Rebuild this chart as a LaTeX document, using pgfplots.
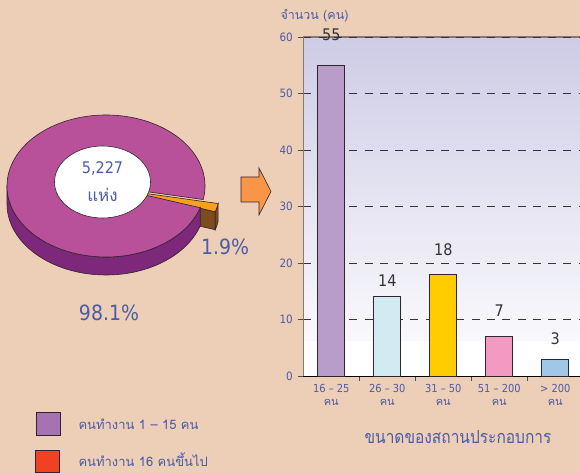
\documentclass[border=0pt]{standalone}
\usepackage{pgfplots}
\pgfplotsset{compat=1.18}
\usepackage{graphicx}
\usepackage{fontspec}
\setmainfont{DejaVu Sans Condensed}
\newfontfamily\thai[Script=Thai]{Loma}

\definecolor{bg}{RGB}{237,206,183}
\definecolor{txtblue}{RGB}{75,92,168}
\definecolor{lav}{RGB}{206,204,230}
\definecolor{pietop}{RGB}{184,80,154}
\definecolor{pieside}{RGB}{125,40,122}
\definecolor{slicetop}{RGB}{250,160,30}
\definecolor{sliceside}{RGB}{124,76,30}
\definecolor{arroworange}{RGB}{247,150,70}
\definecolor{leg1}{RGB}{165,115,180}
\definecolor{leg2}{RGB}{240,65,35}
\definecolor{b1}{RGB}{184,156,202}
\definecolor{b2}{RGB}{210,235,242}
\definecolor{b3}{RGB}{255,204,0}
\definecolor{b4}{RGB}{243,154,193}
\definecolor{b5}{RGB}{160,198,232}
\definecolor{gridc}{RGB}{55,50,60}
\definecolor{framec}{RGB}{135,120,115}
\definecolor{outl}{RGB}{50,35,45}

% pie: share of establishments (percent)
\def\pctBig{98.1}
\def\pctSmall{1.9}

\begin{document}
\begin{tikzpicture}[x=1pt,y=1pt]
% pie geometry (picture units = pt)
\pgfmathsetmacro{\cx}{106}
\pgfmathsetmacro{\cy}{287}
\pgfmathsetmacro{\tA}{-11}
\pgfmathsetmacro{\tB}{\tA-3.6*\pctSmall}
\pgfmathsetmacro{\tBB}{\tB+360}
\pgfmathsetmacro{\xA}{\cx+99*cos(\tA)}
\pgfmathsetmacro{\yA}{\cy+71*sin(\tA)}
\pgfmathsetmacro{\xB}{\cx+99*cos(\tB)}
\pgfmathsetmacro{\yB}{\cy+71*sin(\tB)}
\pgfmathsetmacro{\sx}{15}
\pgfmathsetmacro{\sy}{-4}
\fill[bg] (0,0) rectangle (580,473);

% ---- pie ----
\begin{axis}[at={(0pt,0pt)}, anchor=south west, hide axis,
    xtick=\empty, ytick=\empty,
    x=1pt, y=1pt, xmin=0, xmax=260, ymin=0, ymax=473, clip=false]
  % exploded small slice
  \filldraw[sliceside, draw=outl, line width=0.6pt]
    (axis cs:{\cx+\sx},{\cy+\sy}) -- (axis cs:{\xB+\sx},{\yB+\sy})
    -- (axis cs:{\xB+\sx},{\yB+\sy-18}) -- (axis cs:{\cx+\sx},{\cy+\sy-18}) -- cycle;
  \filldraw[sliceside, draw=outl, line width=0.6pt]
    (axis cs:{\xB+\sx},{\yB+\sy}) -- (axis cs:{\xB+\sx},{\yB+\sy-18})
    arc[start angle=\tB, end angle=\tA, x radius=99pt, y radius=71pt]
    -- (axis cs:{\xA+\sx},{\yA+\sy})
    arc[start angle=\tA, end angle=\tB, x radius=99pt, y radius=71pt] -- cycle;
  \filldraw[slicetop, draw=outl, line width=0.6pt]
    (axis cs:{\cx+\sx},{\cy+\sy}) -- (axis cs:{\xA+\sx},{\yA+\sy})
    arc[start angle=\tA, end angle=\tB, x radius=99pt, y radius=71pt] -- cycle;
  % main part
  \filldraw[pieside, draw=outl, line width=0.6pt]
    (axis cs:{\cx-99},\cy) -- (axis cs:{\cx-99},{\cy-18})
    arc[start angle=180, end angle=\tBB, x radius=99pt, y radius=71pt]
    -- (axis cs:\xB,\yB)
    arc[start angle=\tBB, end angle=180, x radius=99pt, y radius=71pt] -- cycle;
  \filldraw[pietop, draw=outl, line width=0.6pt]
    (axis cs:\cx,\cy) -- (axis cs:\xA,\yA)
    arc[start angle=\tA, end angle=\tBB, x radius=99pt, y radius=71pt] -- cycle;
  \filldraw[white, draw=outl, line width=0.6pt]
    (axis cs:102.5,291) ellipse [x radius=48pt, y radius=36pt];
  \node[text=txtblue, font=\fontsize{16}{16}\selectfont] at (axis cs:102.5,305) {5,227};
  \node[text=txtblue, font=\fontsize{17}{17}\selectfont\thai] at (axis cs:102.5,278) {แห่ง};
  \node[text=txtblue, font=\fontsize{21}{21}\selectfont] at (axis cs:225,226) {\pctSmall\%};
  \node[text=txtblue, font=\fontsize{21}{21}\selectfont] at (axis cs:109,160) {\pctBig\%};
\end{axis}

% arrow
\filldraw[arroworange, draw=outl, line width=0.6pt]
  (241,296) -- (259,296) -- (259,305) -- (271,281.5) -- (259,258) -- (259,271) -- (241,271) -- cycle;

% legend
\filldraw[leg1, draw=outl, line width=1pt] (36,37) rectangle (60,60);
\filldraw[leg2, draw=outl, line width=1pt] (35,0.5) rectangle (59,22);
\node[anchor=west, text=txtblue, font=\fontsize{13}{13}\selectfont\thai] at (75,49) {คนทำงาน 1 – 15 คน};
\node[anchor=west, text=txtblue, font=\fontsize{13}{13}\selectfont\thai] at (75,13) {คนทำงาน 16 คนขึ้นไป};

% plot area background
\fill[white] (303.3,97) rectangle (584,132);
\shade[top color=lav, bottom color=lav!12!white] (303.3,132) rectangle (584,436);
\draw[framec, line width=1.2pt] (303.3,436) -- (584,436);

% ---- bars ----
\begin{axis}[at={(303.3pt,97pt)}, anchor=south west,
    scale only axis, width=280pt, height=339pt,
    xmin=-0.5, xmax=4.5, ymin=0, ymax=60,
    clip=false,
    axis x line*=bottom, axis y line*=left,
    x axis line style={black, line width=0.9pt, -},
    y axis line style={framec, line width=1.2pt, -},
    ytick={0,10,...,60},
    ymajorgrids,
    grid style={gridc, dash pattern=on 8pt off 7.3pt, line width=0.9pt},
    xtick={0,1,2,3,4},
    xticklabels={{16 – 25\\{\thai คน}},{26 – 30\\{\thai คน}},{31 – 50\\{\thai คน}},{51 – 200\\{\thai คน}},{> 200\\{\thai คน}}},
    minor xtick={0.5,1.5,2.5,3.5},
    tick align=outside,
    major x tick style={draw=none},
    major tick length=5pt, minor tick length=5pt,
    tick style={black!70, line width=0.8pt},
    xticklabel style={align=center, text=txtblue, font=\fontsize{11}{13}\selectfont},
    yticklabel style={text=txtblue, font=\fontsize{11.5}{11.5}\selectfont, xshift=-2pt},
    /pgf/number format/assume math mode=true,
    ybar, bar width=0.48, bar shift=0pt,
    nodes near coords,
    every node near coord/.append style={anchor=center, text=black!80, font=\fontsize{16}{16}\selectfont},
  ]
  \addplot[fill=b1, draw=outl, line width=0.8pt, every node near coord/.append style={yshift=30pt}] coordinates {(0,55)};
  \addplot[fill=b2, draw=outl, line width=0.8pt, every node near coord/.append style={yshift=16pt}] coordinates {(1,14)};
  \addplot[fill=b3, draw=outl, line width=0.8pt, every node near coord/.append style={yshift=25pt}] coordinates {(2,18)};
  \addplot[fill=b4, draw=outl, line width=0.8pt, every node near coord/.append style={yshift=26pt}] coordinates {(3,7)};
  \addplot[fill=b5, draw=outl, line width=0.8pt, every node near coord/.append style={yshift=20pt}] coordinates {(4,3)};
\end{axis}

\node[text=txtblue, font=\fontsize{12.5}{12.5}\selectfont\thai] at (314.5,457) {จำนวน (คน)};
\node[text=txtblue, font=\fontsize{18}{18}\selectfont\thai] at (458,36) {\scalebox{0.86}[1]{ขนาดของสถานประกอบการ}};

\pgfresetboundingbox
\path[use as bounding box] (0,0) rectangle (580,473);
\end{tikzpicture}
\end{document}
